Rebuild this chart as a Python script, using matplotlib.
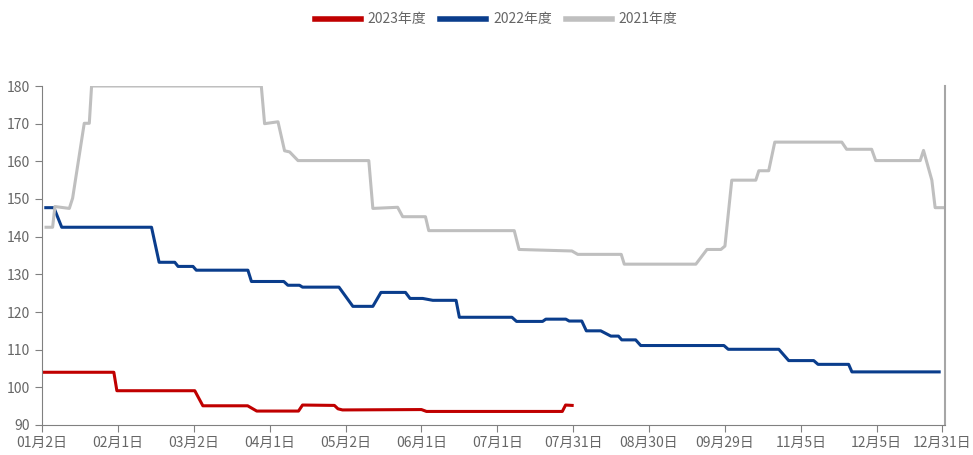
import matplotlib
matplotlib.use("Agg")
import matplotlib.pyplot as plt

plt.rcParams['font.family'] = ['Noto Sans CJK SC', 'DejaVu Sans']

# x = day position on the axis (0 = 01月2日)
x_2023 = [0, 28.4, 29.6, 60.4, 63.6, 81.3, 84.9, 101.4, 103, 115.6, 117, 118.8,
          150, 152, 205.7, 207, 209.6]
y_2023 = [104, 104, 99.1, 99.1, 95.1, 95.1, 93.7, 93.7, 95.3, 95.2, 94.3, 94.0,
          94.1, 93.6, 93.6, 95.3, 95.2]

x_2022 = [1.5, 4.7, 7.8, 43.3, 46.3, 52.5, 53.8, 59.7, 61, 81.4, 82.8, 95.6, 97.2,
          101.8, 103, 117.4, 122.9, 130.8, 134, 143.7, 145.5, 150.5, 154.5, 163.7,
          165, 185.8, 187.6, 197.9, 199.2, 207.1, 208.4, 213.4, 215.2, 220.9, 224.9,
          227.9, 229.2, 234.7, 236.7, 269.6, 271.3, 291.3, 295.2, 305.1, 306.8,
          318.9, 320.2, 354.7]
y_2022 = [147.7, 147.7, 142.5, 142.5, 133.2, 133.2, 132.1, 132.1, 131.1, 131.1,
          128.1, 128.1, 127.1, 127.1, 126.6, 126.6, 121.5, 121.5, 125.2, 125.2,
          123.6, 123.6, 123.1, 123.1, 118.6, 118.6, 117.5, 117.5, 118.1, 118.1,
          117.6, 117.6, 115.0, 115.0, 113.6, 113.6, 112.6, 112.6, 111.1, 111.1,
          110.1, 110.1, 107.1, 107.1, 106.1, 106.1, 104.1, 104.1]

x_2021 = [1.6, 4.2, 5.1, 10.8, 12.1, 16.7, 18.7, 19.6, 86.7, 88, 93.3, 95.9, 97.9,
          101.2, 129.2, 130.8, 140.6, 142.6, 151.6, 152.9, 186.7, 188.6, 209.5,
          211.8, 229, 230.2, 258.5, 262.9, 268.4, 270, 272.7, 282.2, 283.4, 287.3,
          289.7, 316.2, 318.1, 328, 329.6, 347.2, 348.5, 351.8, 353.1, 356]
y_2021 = [142.5, 142.5, 148.0, 147.5, 150.2, 170.1, 170.1, 180, 180, 170, 170.5,
          162.8, 162.5, 160.2, 160.2, 147.5, 147.8, 145.3, 145.3, 141.6, 141.6,
          136.6, 136.2, 135.3, 135.3, 132.7, 132.7, 136.6, 136.6, 137.5, 155.0,
          155.0, 157.5, 157.5, 165.1, 165.1, 163.2, 163.2, 160.2, 160.2, 162.9,
          155.0, 147.7, 147.7]

tick_pos = [0, 30, 60, 90, 120, 150, 180, 210, 240, 270, 300, 330, 356]
tick_labels = ["01月2日", "02月1日", "03月2日", "04月1日", "05月2日", "06月1日",
               "07月1日", "07月31日", "08月30日", "09月29日", "11月5日", "12月5日",
               "12月31日"]

label_color = "#666666"

fig = plt.figure(figsize=(9.73, 4.55), dpi=100)
ax = fig.add_axes([42 / 973, 30 / 455, 903 / 973, 339 / 455])

ax.plot(x_2023, y_2023, color="#C00000", lw=2.2, label="2023年度")
ax.plot(x_2022, y_2022, color="#0A3D8C", lw=2.2, label="2022年度")
ax.plot(x_2021, y_2021, color="#BFBFBF", lw=2.2, label="2021年度")

ax.set_xlim(0, 357)
ax.set_ylim(90, 180)
ax.set_yticks(range(90, 181, 10))
ax.set_xticks(tick_pos)
ax.set_xticklabels(tick_labels)

ax.spines['top'].set_visible(False)
ax.spines['left'].set_color("#808080")
ax.spines['bottom'].set_color("#808080")
ax.spines['right'].set_color("#A6A6A6")
ax.spines['right'].set_linewidth(1.5)
ax.tick_params(axis='both', colors="#808080", labelcolor=label_color,
               labelsize=10, length=5, direction='out')
ax.tick_params(axis='x', pad=3)

fig.legend(loc='upper center', bbox_to_anchor=(0.51, 1.0), ncol=3, frameon=False,
           handlelength=3.3, columnspacing=1.0, handletextpad=0.5,
           prop={'size': 10}, labelcolor=label_color)
for line in fig.legends[0].get_lines():
    line.set_linewidth(4)

fig.savefig("out.png", dpi=100)
plt.close('all')
